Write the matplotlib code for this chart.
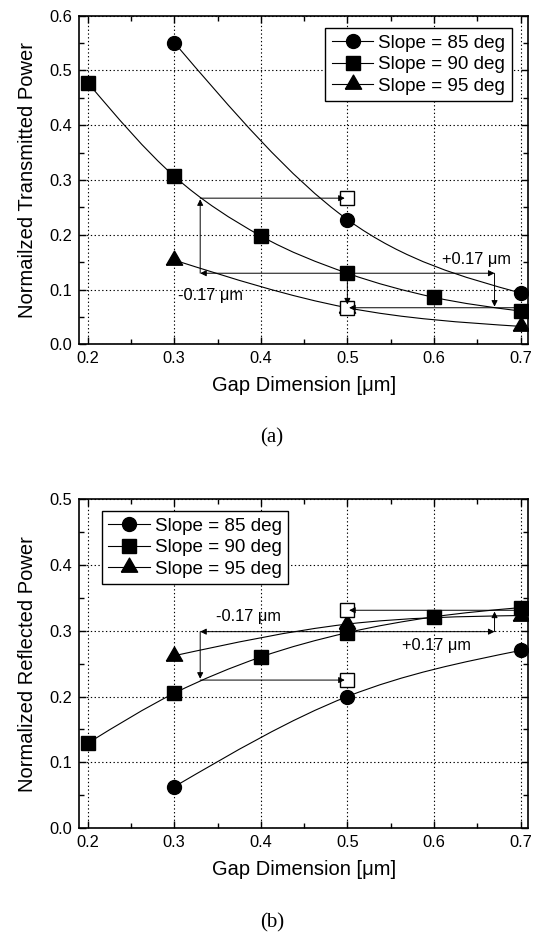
import numpy as np
import matplotlib
matplotlib.use("Agg")
import matplotlib.pyplot as plt
from matplotlib.path import Path
from matplotlib.patches import PathPatch
from matplotlib.lines import Line2D
from matplotlib.ticker import MultipleLocator, FormatStrFormatter

plt.rcParams['font.family'] = ['Liberation Sans', 'DejaVu Sans']

# gap values for each slope series
gap_85 = [0.3, 0.5, 0.7]
gap_90 = [0.2, 0.3, 0.4, 0.5, 0.6, 0.7]
gap_95 = [0.3, 0.5, 0.7]
labels = ["Slope = 85 deg", "Slope = 90 deg", "Slope = 95 deg"]

# (a) normalized transmitted power
trans_85 = [0.551, 0.228, 0.094]
trans_90 = [0.478, 0.307, 0.198, 0.130, 0.086, 0.061]
trans_95 = [0.154, 0.067, 0.033]

# (b) normalized reflected power
refl_85 = [0.063, 0.200, 0.270]
refl_90 = [0.129, 0.205, 0.260, 0.297, 0.321, 0.335]
refl_95 = [0.262, 0.310, 0.323]

# open squares (shifted gap +/- 0.17 um)
open_a = [0.267, 0.067]
open_b = [0.331, 0.225]

# triangle marker, equilateral, centred on centroid
tri = [(-1, -0.577), (1, -0.577), (0, 1.155), (-1, -0.577)]


def smooth_path(x, y):
    """cubic hermite curve through the points, drawn as bezier segments"""
    x = np.asarray(x, float)
    y = np.asarray(y, float)
    n = len(x)
    s = np.diff(y) / np.diff(x)
    m = np.zeros(n)
    if n > 2:
        m[1:-1] = (y[2:] - y[:-2]) / (x[2:] - x[:-2])
        m[0] = (3 * s[0] - m[1]) / 2
        m[-1] = (3 * s[-1] - m[-2]) / 2
    else:
        m[:] = s[0]
    verts = [(x[0], y[0])]
    codes = [Path.MOVETO]
    for i in range(n - 1):
        h = x[i + 1] - x[i]
        verts += [(x[i] + h / 3, y[i] + m[i] * h / 3),
                  (x[i + 1] - h / 3, y[i + 1] - m[i + 1] * h / 3),
                  (x[i + 1], y[i + 1])]
        codes += [Path.CURVE4] * 3
    return Path(verts, codes)


def arrow(ax, start, end):
    ax.annotate('', xy=end, xytext=start,
                arrowprops=dict(arrowstyle='-|>', lw=0.7, color='k',
                                mutation_scale=9, shrinkA=0, shrinkB=0),
                zorder=6)


def setup(ax, ymax, ylabel):
    ax.set_xlim(0.19, 0.709)
    ax.set_ylim(0, ymax)
    ax.xaxis.set_major_locator(MultipleLocator(0.1))
    ax.xaxis.set_minor_locator(MultipleLocator(0.05))
    ax.yaxis.set_major_locator(MultipleLocator(0.1))
    ax.yaxis.set_minor_locator(MultipleLocator(0.05))
    ax.xaxis.set_major_formatter(FormatStrFormatter('%.1f'))
    ax.yaxis.set_major_formatter(FormatStrFormatter('%.1f'))
    ax.tick_params(which='both', direction='in', top=True, right=True,
                   labelsize=11.8, width=1.0)
    ax.tick_params(which='major', length=5, pad=5)
    ax.tick_params(which='minor', length=3.5)
    ax.grid(True, which='major', color='k', linestyle=(0, (1.2, 2.2)), lw=0.8)
    for sp in ax.spines.values():
        sp.set_linewidth(1.2)
    ax.set_xlabel("Gap Dimension [\u03bcm]", fontsize=14.5, labelpad=7)
    ax.set_ylabel(ylabel, fontsize=14.5, labelpad=9)


def draw(ax, series):
    markers = ['o', 's', tri]
    sizes = [10, 10, 13.5]
    handles = []
    for (gx, gy), mk, ms, lab in zip(series, markers, sizes, labels):
        ax.add_patch(PathPatch(smooth_path(gx, gy), fill=False, lw=0.8,
                               edgecolor='k', zorder=3))
        ax.plot(gx, gy, ls='none', marker=mk, ms=ms, color='k', zorder=4)
        handles.append(Line2D([], [], color='k', lw=0.8, marker=mk, ms=ms))
    return handles


def legend(ax, h, loc, anchor):
    leg = ax.legend(h, labels, loc=loc, bbox_to_anchor=anchor,
                    borderaxespad=0, fontsize=13.6, fancybox=False,
                    framealpha=1, edgecolor='k', handlelength=2.2,
                    labelspacing=0.22, handletextpad=0.25, borderpad=0.35)
    leg.get_frame().set_linewidth(1.0)


fig = plt.figure(figsize=(5.37, 9.34), dpi=100)
ax1 = fig.add_axes([0.1471, 0.6312, 0.8367, 0.352])
ax2 = fig.add_axes([0.1471, 0.1132, 0.8367, 0.3526])

# ---- (a) transmitted ----
h = draw(ax1, [(gap_85, trans_85), (gap_90, trans_90), (gap_95, trans_95)])
setup(ax1, 0.6, "Normailzed Transmitted Power")
ax1.plot([0.5, 0.5], open_a, ls='none', marker='s', ms=10, mfc='white',
         mec='k', mew=1.0, zorder=5)
arrow(ax1, (0.5, trans_90[3]), (0.33, trans_90[3]))
arrow(ax1, (0.5, trans_90[3]), (0.67, trans_90[3]))
arrow(ax1, (0.33, trans_90[3]), (0.33, open_a[0] - 0.002))
arrow(ax1, (0.33, open_a[0]), (0.497, open_a[0]))
arrow(ax1, (0.67, trans_90[3]), (0.67, open_a[1] + 0.002))
arrow(ax1, (0.70, open_a[1]), (0.502, open_a[1]))
arrow(ax1, (0.5, trans_90[3]), (0.5, open_a[1] + 0.006))
ax1.text(0.649, 0.155, "+0.17 \u03bcm", fontsize=11.8, ha='center', va='center')
ax1.text(0.342, 0.0885, "-0.17 \u03bcm", fontsize=11.8, ha='center', va='center')
legend(ax1, h, 'upper right', (0.963, 0.962))

# ---- (b) reflected ----
h = draw(ax2, [(gap_85, refl_85), (gap_90, refl_90), (gap_95, refl_95)])
setup(ax2, 0.5, "Normalized Reflected Power")
ax2.plot([0.5, 0.5], open_b, ls='none', marker='s', ms=10, mfc='white',
         mec='k', mew=1.0, zorder=5)
y_mid = 0.2985
arrow(ax2, (0.5, y_mid), (0.33, y_mid))
arrow(ax2, (0.5, y_mid), (0.67, y_mid))
arrow(ax2, (0.33, y_mid), (0.33, open_b[1] + 0.002))
arrow(ax2, (0.33, open_b[1]), (0.497, open_b[1]))
arrow(ax2, (0.67, y_mid), (0.67, open_b[0] - 0.002))
arrow(ax2, (0.70, open_b[0]), (0.502, open_b[0]))
ax2.text(0.386, 0.3213, "-0.17 \u03bcm", fontsize=11.8, ha='center', va='center')
ax2.text(0.603, 0.2768, "+0.17 \u03bcm", fontsize=11.8, ha='center', va='center')
legend(ax2, h, 'upper left', (0.0505, 0.9636))

fig.text(0.506, 1 - 438 / 934, "(a)", family='Liberation Serif', fontsize=15,
         ha='center', va='center')
fig.text(0.506, 1 - 923 / 934, "(b)", family='Liberation Serif', fontsize=15,
         ha='center', va='center')

fig.savefig("out.png", dpi=100)
